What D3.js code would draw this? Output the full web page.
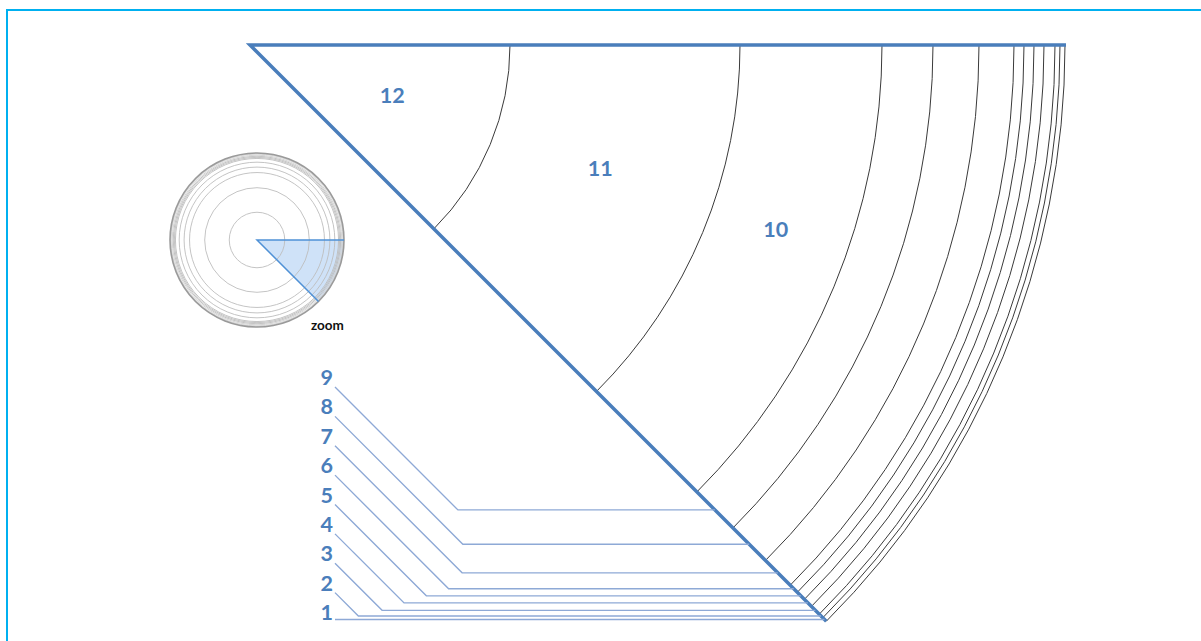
<!DOCTYPE html>
<html>
<head>
<meta charset="utf-8">
<script src="https://cdn.jsdelivr.net/npm/d3@7/dist/d3.min.js"></script>
<style>
  html, body { margin: 0; padding: 0; background: #fff; }
  svg { display: block; }
</style>
</head>
<body>
<svg id="chart" width="1201" height="641"></svg>
<script>
// ---- data (rings listed from outermost "1" to innermost "12") ----
const ringLabels = ["1","2","3","4","5","6","7","8","9","10","11","12"];
const ringWidths = [5, 5, 11, 10, 10, 10, 35, 46, 51, 142, 230, 260];
const leaderLabels = ["9","8","7","6","5","4","3","2","1"];
const insideLabels = ["10","11","12"];
const zoomText = "zoom";

// ---- derived radii: cumulative from the centre outward ----
const inner2outer = ringLabels.map((l, i) => ({label: l, w: ringWidths[i]})).reverse();
let acc = 0;
inner2outer.forEach(d => { d.r0 = acc; acc += d.w; d.r1 = acc; d.mid = (d.r0 + d.r1) / 2; });
const total = acc;
const byLabel = new Map(inner2outer.map(d => [d.label, d]));

const svg = d3.select("#chart");

// frame
svg.append("path")
  .attr("d", "M7,700 L7,10 L1210,10")
  .attr("fill", "none").attr("stroke", "#00b0f0").attr("stroke-width", 2);

// ---- main zoomed wedge ----
const cx = 250, cy = 45;
const r = d3.scaleLinear().domain([0, total]).range([0, 815]);
const ang = Math.PI / 4;

const g = svg.append("g");
function arcPath(rad) {
  const p = d3.path();
  p.moveTo(cx + rad, cy);
  p.arc(cx, cy, rad, 0, ang, false);
  return p.toString();
}
g.selectAll("path.ring").data(inner2outer).join("path")
  .attr("class", "ring")
  .attr("d", d => arcPath(r(d.r1)))
  .attr("fill", "none").attr("stroke", "#3a3a3a").attr("stroke-width", 1);

// wedge edges
const R = r(total);
g.append("path")
  .attr("d", `M${cx + R + 1},${cy} L${cx},${cy} L${cx + R * Math.cos(ang)},${cy + R * Math.sin(ang)}`)
  .attr("fill", "none").attr("stroke", "#4a7ebb").attr("stroke-width", 3.5)
  .attr("stroke-linejoin", "miter");

// inside labels (10, 11, 12)
const labAng = 19.3 * Math.PI / 180;
const labR = l => { const d = byLabel.get(l); return d.r0 === 0 ? d.r1 * 0.58 : d.mid - 4; };
g.selectAll("text.inlab").data(insideLabels).join("text")
  .attr("class", "inlab")
  .attr("x", l => cx + r(labR(l)) * Math.cos(labAng))
  .attr("y", l => cy + r(labR(l)) * Math.sin(labAng))
  .attr("text-anchor", "middle").attr("dominant-baseline", "central")
  .attr("font-family", "Lato, 'Open Sans', sans-serif").attr("font-weight", 700)
  .attr("font-size", 21.5).attr("fill", "#4a7ebb")
  .text(l => l);

// leader labels (1..9)
const ly = d3.scalePoint().domain(leaderLabels).range([385, 620]);
const lx = 333;
g.selectAll("text.lead").data(leaderLabels).join("text")
  .attr("class", "lead")
  .attr("x", lx).attr("y", l => ly(l))
  .attr("text-anchor", "end")
  .attr("font-family", "Lato, 'Open Sans', sans-serif").attr("font-weight", 700)
  .attr("font-size", 21.5).attr("fill", "#4a7ebb")
  .text(l => l);

g.selectAll("path.leader").data(leaderLabels).join("path")
  .attr("class", "leader")
  .attr("d", l => {
    const d = byLabel.get(l);
    const yMid = cy + r(d.mid) * Math.sin(ang);
    const xEnd = cx + r(d.mid) * Math.cos(ang);
    const ys = Math.min(ly(l) + 2, yMid);
    const x0 = lx + 2;
    const xb = x0 + (yMid - ys);
    return `M${x0},${ys} L${xb},${yMid} L${xEnd},${yMid}`;
  })
  .attr("fill", "none").attr("stroke", "#8ea9d6").attr("stroke-width", 1.4);

// ---- inset overview circle ----
const icx = 257, icy = 240;
const ri = d3.scaleLinear().domain([0, total]).range([0, 87]);
const ig = svg.append("g");
// wedge fill
const wedge = d3.path();
wedge.moveTo(icx, icy);
wedge.lineTo(icx + ri(total), icy);
wedge.arc(icx, icy, ri(total), 0, ang, false);
wedge.closePath();
ig.append("path").attr("d", wedge.toString()).attr("fill", "#cfe2f8");

const nC = inner2outer.length;
ig.selectAll("circle").data(inner2outer).join("circle")
  .attr("cx", icx).attr("cy", icy)
  .attr("r", d => ri(d.r1))
  .attr("fill", "none")
  .attr("stroke", (d, i) => i === nC - 1 ? "#9a9a9a" : (i >= nC - 4 ? "#cfcfcf" : "#bdbdbd"))
  .attr("stroke-width", (d, i) => i === nC - 1 ? 1.6 : 0.9);

ig.append("path")
  .attr("d", `M${icx + ri(total)},${icy} L${icx},${icy} L${icx + ri(total) * Math.cos(ang)},${icy + ri(total) * Math.sin(ang)}`)
  .attr("fill", "none").attr("stroke", "#4f91d6").attr("stroke-width", 1.5);

ig.append("text")
  .attr("x", 311).attr("y", 330)
  .attr("font-family", "Lato, 'Open Sans', sans-serif").attr("font-weight", 700)
  .attr("font-size", 13.5).attr("fill", "#111")
  .text(zoomText);
</script>
</body>
</html>
